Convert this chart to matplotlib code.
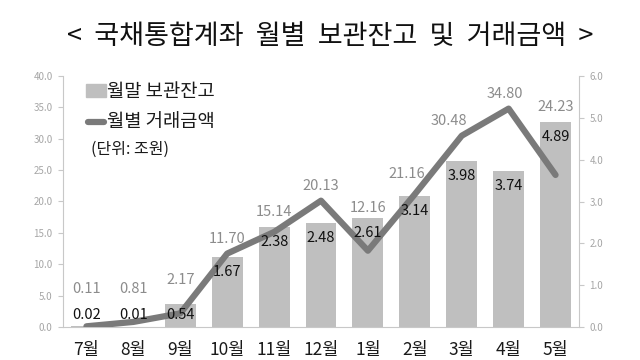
import matplotlib
matplotlib.use("Agg")
import matplotlib.pyplot as plt
from matplotlib.patches import Rectangle
from matplotlib.lines import Line2D
from matplotlib.transforms import offset_copy
import numpy as np

plt.rcParams['font.family'] = ['Noto Sans CJK KR', 'DejaVu Sans']

categories = ['7월', '8월', '9월', '10월', '11월', '12월', '1월', '2월', '3월', '4월', '5월']
balance = [0.02, 0.01, 0.54, 1.67, 2.38, 2.48, 2.61, 3.14, 3.98, 3.74, 4.89]      # 월말 보관잔고 (right axis)
trade = [0.11, 0.81, 2.17, 11.70, 15.14, 20.13, 12.16, 21.16, 30.48, 34.80, 24.23]  # 월별 거래금액 (left axis)
left_ticks = [0, 5, 10, 15, 20, 25, 30, 35, 40]
right_ticks = [0, 1, 2, 3, 4, 5, 6]

title = '<  국채통합계좌  월별  보관잔고  및  거래금액  >'
legend_bar = '월말 보관잔고'
legend_line = '월별 거래금액'
unit = '(단위: 조원)'

W, H = 640, 360
fig = plt.figure(figsize=(6.4, 3.6), dpi=100)
L, R, T, B = 63, 579, 76, 327
ax = fig.add_axes([L / W, 1 - B / H, (R - L) / W, (B - T) / H])
ax2 = ax.twinx()

bar_color = '#bfbfbf'
line_color = '#7a7a7a'
axis_color = '#c8c8c8'
tick_label_color = '#a6a6a6'

x = np.arange(len(categories))
ax.bar(x, balance, width=0.66, color=bar_color, zorder=2)
ax.set_ylim(0, 6)
ax.set_xlim(-0.5, len(categories) - 0.5)
ax2.set_ylim(0, 40)
ax2.plot(x, trade, color=line_color, lw=4.5, solid_capstyle='round', solid_joinstyle='round', zorder=3)

# axes placement: bars' axis on the right, line's axis on the left
ax.yaxis.tick_right()
ax2.yaxis.tick_left()
ax.set_yticks(right_ticks)
ax.set_yticklabels([f'{v:.1f}' for v in right_ticks])
ax2.set_yticks(left_ticks)
ax2.set_yticklabels([f'{v:.1f}' for v in left_ticks])
for a in (ax, ax2):
    for s in a.spines.values():
        s.set_visible(False)
ax2.spines['left'].set_visible(True)
ax2.spines['left'].set_color(axis_color)
ax.spines['right'].set_visible(True)
ax.spines['right'].set_color(axis_color)
ax.spines['bottom'].set_visible(True)
ax.spines['bottom'].set_color(axis_color)
for a in (ax, ax2):
    a.tick_params(axis='y', colors=axis_color, labelcolor=tick_label_color, labelsize=7, length=3.5, width=0.8, pad=4)

ax.set_xticks(np.arange(-0.5, len(categories), 1.0))
ax.set_xticklabels([])
ax.tick_params(axis='x', colors=axis_color, length=4, width=0.8)
ax.set_xticks(x, minor=True)
ax.set_xticklabels(categories, minor=True)
ax.tick_params(axis='x', which='minor', length=0, pad=10, labelsize=12.5, labelcolor='#1a1a1a')
ax2.set_xticks([])

# value labels (all drawn on the top axes so they sit above the line)
px_per_right = (B - T) / 6.0
for i, v in enumerate(balance):
    y = max(v - 15 / px_per_right, 0.29)
    ax2.text(i, y, f'{v:.2f}', ha='center', va='center', fontsize=10.5, color='#111111',
             zorder=5, transform=ax.transData)

# small nudges (in points) so that grey labels clear the line
nudge = {7: -6, 8: -9, 9: -3}
rise = {2: 7, 6: -4, 7: 4}
px_per_left = (B - T) / 40.0
for i, v in enumerate(trade):
    top = max(v, balance[i] * 40 / 6)
    y = max(top + 15 / px_per_left, 6.0)
    tr = offset_copy(ax2.transData, fig=fig, x=nudge.get(i, 0), y=rise.get(i, 0), units='points')
    ax2.text(i, y, f'{v:.2f}', ha='center', va='center', fontsize=10.5, color='#8c8c8c',
             zorder=5, transform=tr)

# legend (manual)
fig.patches.append(Rectangle((86 / W, 1 - 97 / H), 20 / W, 13 / H, transform=fig.transFigure,
                             color=bar_color, figure=fig))
fig.lines.append(Line2D([88 / W, 104 / W], [1 - 122 / H, 1 - 122 / H], transform=fig.transFigure,
                        color=line_color, lw=4.5, solid_capstyle='round', figure=fig))
fig.text(107 / W, 1 - 91 / H, legend_bar, fontsize=13.5, va='center', ha='left', color='#1a1a1a')
fig.text(107 / W, 1 - 122 / H, legend_line, fontsize=13.5, va='center', ha='left', color='#1a1a1a')
fig.text(91 / W, 1 - 149 / H, unit, fontsize=11.5, va='center', ha='left', color='#1a1a1a')

fig.text(330 / W, 1 - 37 / H, title, fontsize=19.5, ha='center', va='center', color='#111111')

fig.savefig('out.png', dpi=100)
